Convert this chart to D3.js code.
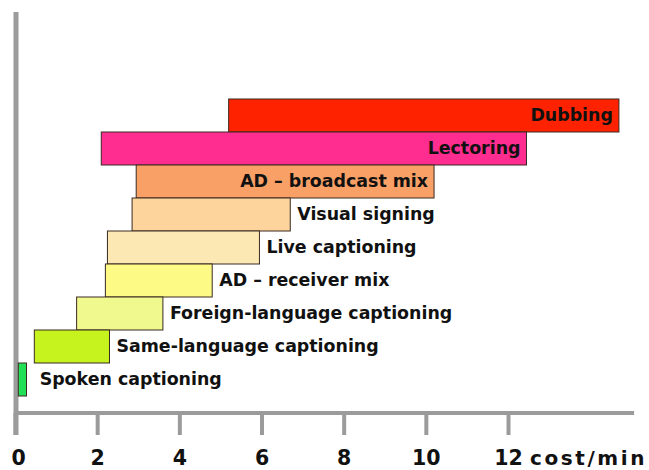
<!DOCTYPE html>
<html>
<head>
<meta charset="utf-8">
<script src="https://cdn.jsdelivr.net/npm/d3@7"></script>
<style>
  html, body { margin: 0; padding: 0; background: #fff; }
  svg { display: block; }
  text { font-family: "DejaVu Sans", Verdana, sans-serif; font-weight: bold; fill: #111; }
</style>
</head>
<body>
<div id="chart"></div>
<script>
// services, top to bottom
const services = [
  'Dubbing',
  'Lectoring',
  'AD \u2013 broadcast mix',
  'Visual signing',
  'Live captioning',
  'AD \u2013 receiver mix',
  'Foreign-language captioning',
  'Same-language captioning',
  'Spoken captioning'
];
const costLow = [5.2, 2.1, 2.95, 2.85, 2.25, 2.2, 1.5, 0.47, 0.08];
const costHigh = [14.7, 12.45, 10.2, 6.7, 5.95, 4.8, 3.6, 2.3, 0.28];
const tickValues = [0, 2, 4, 6, 8, 10, 12];
const axisTitle = 'cost/min';

const barColors = ['#ff2200', '#ff2d8f', '#f9a066', '#fdd49b', '#fbe8b3',
  '#fdfb86', '#f0f98e', '#c6f21e', '#22e055'];

const width = 649, height = 470;

const svg = d3.select('#chart').append('svg')
  .attr('width', width)
  .attr('height', height);

const x = d3.scaleLinear()
  .domain([0, 12])
  .range([15, 508]);

const y = d3.scaleBand()
  .domain(services)
  .range([99, 396])
  .padding(0);

const axisY = 413;
const axisColor = '#9b9b9b';

// vertical axis line
svg.append('line')
  .attr('x1', x(0) + 1).attr('x2', x(0) + 1)
  .attr('y1', 12).attr('y2', 435)
  .attr('stroke', axisColor)
  .attr('stroke-width', 5);

// bottom axis
const xAxis = svg.append('g')
  .attr('transform', 'translate(0,' + axisY + ')')
  .call(d3.axisBottom(x).tickValues(tickValues).tickSize(22).tickPadding(15));

xAxis.select('.domain').remove();
xAxis.selectAll('.tick line')
  .attr('stroke', axisColor)
  .attr('stroke-width', 4);
xAxis.selectAll('.tick text')
  .attr('font-size', 20.5)
  .attr('font-family', '"DejaVu Sans", Verdana, sans-serif')
  .attr('font-weight', 'bold')
  .attr('fill', '#111');
// first label sits a bit right of its tick, as in the original
xAxis.selectAll('.tick text').filter(d => d === 0).attr('dx', 3);

svg.append('line')
  .attr('x1', x(0)).attr('x2', x(15.07))
  .attr('y1', axisY).attr('y2', axisY)
  .attr('stroke', axisColor)
  .attr('stroke-width', 4);

svg.append('text')
  .attr('x', 530)
  .attr('y', 465)
  .attr('font-size', 20)
  .attr('letter-spacing', 2.6)
  .text(axisTitle);

// bars
const bars = services.map((s, i) => ({ name: s, lo: costLow[i], hi: costHigh[i], color: barColors[i] }));

svg.selectAll('.bar')
  .data(bars)
  .enter().append('rect')
  .attr('class', 'bar')
  .attr('x', d => x(d.lo))
  .attr('y', d => y(d.name))
  .attr('width', d => x(d.hi) - x(d.lo))
  .attr('height', y.bandwidth())
  .attr('fill', d => d.color)
  .attr('stroke', '#3a2a22')
  .attr('stroke-width', 1);

// labels: inside the wide bars, to the right of the short ones
const inside = d => x(d.hi) - x(d.lo) > 200;

svg.selectAll('.label')
  .data(bars)
  .enter().append('text')
  .attr('class', 'label')
  .attr('font-size', 17.4)
  .attr('dy', '0.35em')
  .attr('y', d => y(d.name) + y.bandwidth() / 2 - 1)
  .attr('x', d => inside(d) ? x(d.hi) - 6 : Math.max(x(d.hi) + 7, x(0.6)))
  .attr('text-anchor', d => inside(d) ? 'end' : 'start')
  .text(d => d.name);
</script>
</body>
</html>
